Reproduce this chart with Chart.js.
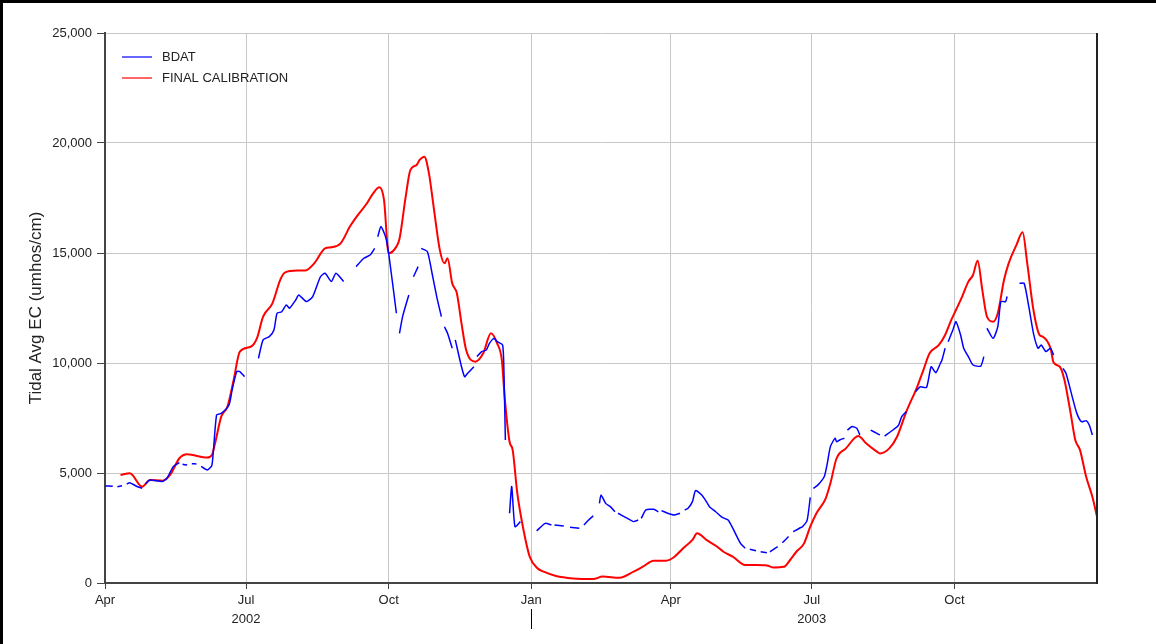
<!DOCTYPE html>
<html>
<head>
<meta charset="utf-8">
<script src="https://cdn.jsdelivr.net/npm/chart.js@4.4.1/dist/chart.umd.min.js"></script>
<style>
  html, body { margin: 0; padding: 0; background: #fff; }
  #wrap { width: 1156px; height: 644px; position: relative; }
</style>
</head>
<body>
<div id="wrap"><canvas id="myChart" width="1156" height="644"></canvas></div>
<script>
// x values are days counted from 1 Apr 2002
const tickDays = [0, 91, 183, 275, 365, 456, 548, 640]
const monthLabels = ['Apr', 'Jul', 'Oct', 'Jan', 'Apr', 'Jul', 'Oct', '']
const yearLabelDays = [91, 456]
const yearLabels = ['2002', '2003']
const yearBreakDays = [275]

const yTicks = [0, 5000, 10000, 15000, 20000, 25000]

// BDAT (null = missing data)
const bdatDays = [
  0, 5, 6, 8, 11, 12, 14, 16, 20, 24, 25, 26, 29, 37, 40, 44, 48, 49, 50, 53, 54, 56, 59, 60,
  62, 66, 69, 72, 75, 80, 82, 85, 87, 90, 95,
  99, 102, 106, 109, 111, 114, 117, 119, 123, 125, 130, 134, 139, 142, 146, 149, 154, 158,
  162, 167, 171, 174, 175, 176, 178, 181, 183, 188, 189,
  190, 192, 196, 197, 199, 202, 203, 204, 208, 211, 214, 217, 218,
  219, 221, 224, 225, 226, 230, 232, 234, 238, 239,
  240, 243, 246, 248, 251, 253, 256.5, 257.4, 258.3, 259.5,
  261, 262.4, 264.5, 268, 273,
  278.5, 284, 288, 289, 290, 296, 298, 300, 306, 307.5, 309, 312, 315, 317,
  319, 320, 323, 326, 329, 330, 331, 337, 341, 344, 345,
  346, 349, 354, 357, 358, 359, 363, 367, 371, 372.5,
  374, 376, 379, 381, 385, 388, 390, 394, 398, 402, 405, 410, 413, 414.5,
  416, 420, 421.5, 423, 427, 428, 429, 434, 435.5, 437, 441, 442.5,
  444, 448, 450, 453, 455, 456,
  457, 460, 464, 466, 468, 471, 472, 474, 477, 478,
  479, 482, 485, 487, 490, 494, 498, 500, 501.5,
  503, 509, 512, 514, 517, 520,
  523, 526, 530, 533, 536, 539, 540, 542, 543,
  544, 547, 549, 552, 554, 557, 560, 565, 567, 568,
  569, 573, 576, 578, 581, 582, 586,
  590, 593, 596, 599, 602, 604, 607, 610, 612, 615,
  618, 620, 624, 627, 630, 633, 635, 637
]
const bdatValues = [
  4410, 4400, null, 4380, 4420, null, 4500, 4560, 4410, 4300, null, 4500, 4680, 4610, 4760, 5290, 5470, null, 5400, 5360, null, 5420, 5410, null,
  5300, 5140, 5360, 7640, 7710, 8090, 8770, 9610, 9610, 9380, null,
  10210, 11050, 11200, 11500, 12260, 12330, 12640, 12490, 12860, 13090, 12790, 13020, 13920, 14080, 13700, 14080, 13700, null,
  14380, 14760, 14910, 15210, null, 15740, 16200, 15740, 14990, 12260, null,
  11350, 12110, 13090, null, 13920, 14380, null, 15210, 15060, 14080, 13020, 12110, null,
  11650, 11350, 10670, null, 11050, 9830, 9380, 9530, 9830, null,
  10290, 10520, 10590, 10890, 11120, 10970, 10820, 9530, 6500, null,
  3170, 4380, 2560, 2790, null,
  2370, 2710, 2640, null, 2640, 2590, null, 2530, 2490, null, 2640, 2860, 3050, null,
  3620, 4000, 3620, 3470, 3240, null, 3170, 2940, 2790, 2860, null,
  2940, 3320, 3350, 3240, null, 3290, 3170, 3090, 3170, null,
  3320, 3390, 3700, 4200, 4000, 3700, 3470, 3240, 2990, 2860, 2490, 1800, 1580, null,
  1530, 1470, null, 1420, 1380, null, 1420, 1650, null, 1830, 2110, null,
  2330, 2490, 2560, 2860, 3890, null,
  4300, 4460, 4830, 5440, 6200, 6580, 6420, 6500, 6580, null,
  6950, 7110, 7030, 6730, null, 6950, 6800, 6730, null,
  6680, 6990, 7180, 7560, 7790, null,
  8700, 8920, 8890, 9830, 9560, 9990, 10140, 10670, null,
  10970, 11500, 11880, 11270, 10670, 10290, 9910, 9860, 10290, null,
  11580, 11120, 11650, 12790, 12790, 13020, null,
  13620, 13620, 12560, 11350, 10670, 10820, 10520, 10670, 10360, null,
  9760, 9530, 8470, 7710, 7330, 7380, 7180, 6730
]

// FINAL CALIBRATION
const calibDays = [
  10, 16, 24, 29, 37, 42, 48, 53, 66, 69, 71, 75, 79, 83, 87, 94, 98, 102, 108, 113, 116, 124, 129,
  135, 142, 146, 152, 158, 162, 169, 173, 177, 180, 183, 188, 190, 194, 197, 201, 203, 206, 209,
  212, 216, 219, 221, 224, 227, 230, 233, 239, 244, 249, 253, 256, 258, 261, 263, 266, 270, 274,
  279, 283, 291, 302, 315, 321, 332, 341, 347, 354, 362, 367, 373, 379, 382, 388, 395, 399, 405,
  413, 420, 427, 431, 438, 442, 446, 451, 455, 459, 465, 468, 472, 478, 486, 491, 498, 500, 506,
  511, 517, 524, 528, 532, 538, 542, 546, 549, 553, 557, 560, 563, 566, 569, 573, 576, 580, 583,
  588, 592, 595, 599, 603, 605, 610, 612, 616, 619, 623, 626, 629, 633, 637, 640
]
const calibValues = [
  4910, 4990, 4380, 4680, 4650, 4910, 5670, 5850, 5700, 5820, 6350, 7560, 8020, 9230, 10520, 10740, 11120, 12110, 12710, 13770, 14110, 14200, 14200,
  14530, 15210, 15260, 15440, 16200, 16620, 17260, 17710, 17990, 17410, 14990, 15290, 15650, 17560, 18770, 19000, 19230, 19380, 18620,
  17110, 15140, 14530, 14760, 13620, 13170, 11800, 10590, 10060, 10440, 11350, 10890, 10140, 8320, 6420, 6050, 4080, 2410, 1200,
  670, 515, 320, 210, 180, 290, 240, 515, 740, 1015, 1015, 1170, 1580, 1960, 2260, 1960, 1650, 1420, 1200,
  820, 820, 800, 710, 740, 1045, 1420, 1800, 2560, 3170, 3850, 4530, 5670, 6120, 6680, 6350, 5970, 5890, 6120,
  6650, 7790, 8920, 9680, 10440, 10820, 11270, 11960, 12410, 13020, 13700, 14000, 14650, 13320, 12110, 11880, 12260, 13770, 14530,
  15360, 15940, 14530, 12410, 11270, 11200, 10670, 10020, 9830, 9230, 7710, 6500, 6050, 4830, 3920, 3020
]

const toPoints = (days, values) => days.map((d, i) => ({ x: d, y: values[i] }))

const axisColor = '#444'
const gridColor = '#c8c8c8'
const fontFamily = '"Liberation Sans", Arial, sans-serif'

const extras = {
  id: 'extras',
  afterDraw(chart) {
    const ctx = chart.ctx
    const area = chart.chartArea
    const xScale = chart.scales.x
    ctx.save()

    // right edge of the plot
    ctx.strokeStyle = '#222'
    ctx.lineWidth = 2
    ctx.beginPath()
    ctx.moveTo(area.right, area.top)
    ctx.lineTo(area.right, area.bottom + 1)
    ctx.stroke()

    // year break mark under Jan
    ctx.strokeStyle = '#000'
    ctx.lineWidth = 1
    yearBreakDays.forEach(d => {
      const px = Math.round(xScale.getPixelForValue(d)) + 0.5
      ctx.beginPath()
      ctx.moveTo(px, area.bottom + 26)
      ctx.lineTo(px, area.bottom + 46)
      ctx.stroke()
    })

    // legend in the top left corner of the plot
    ctx.font = '13px ' + fontFamily
    ctx.textBaseline = 'middle'
    chart.data.datasets.forEach((ds, i) => {
      const y = area.top + 24 + i * 21
      ctx.strokeStyle = ds.borderColor
      ctx.lineWidth = 1.2
      ctx.beginPath()
      ctx.moveTo(area.left + 17, y)
      ctx.lineTo(area.left + 47, y)
      ctx.stroke()
      ctx.fillStyle = '#222'
      ctx.fillText(ds.label, area.left + 57, y)
    })

    // outer frame (top and left only)
    ctx.strokeStyle = '#000'
    ctx.lineWidth = 3
    ctx.beginPath()
    ctx.moveTo(1.5, chart.height)
    ctx.lineTo(1.5, 1.5)
    ctx.lineTo(chart.width, 1.5)
    ctx.stroke()

    ctx.restore()
  }
}

const ctx = document.getElementById('myChart')

new Chart(ctx, {
  type: 'line',
  data: {
    datasets: [
      {
        label: 'BDAT',
        data: toPoints(bdatDays, bdatValues),
        borderColor: '#0000ff',
        borderWidth: 1.5,
        pointRadius: 0,
        tension: 0.2,
        spanGaps: false
      },
      {
        label: 'FINAL CALIBRATION',
        data: toPoints(calibDays, calibValues),
        borderColor: '#ff0000',
        borderWidth: 2,
        pointRadius: 0,
        cubicInterpolationMode: 'monotone'
      }
    ]
  },
  options: {
    responsive: false,
    animation: false,
    devicePixelRatio: 1,
    layout: { padding: { top: 33, right: 59, bottom: 0, left: 0 } },
    plugins: {
      legend: { display: false },
      tooltip: { enabled: false }
    },
    scales: {
      x: {
        type: 'linear',
        min: 0,
        max: 640,
        afterBuildTicks: scale => { scale.ticks = tickDays.map(v => ({ value: v })) },
        afterFit: scale => { scale.height = 61 },
        ticks: {
          autoSkip: false,
          maxRotation: 0,
          padding: 2,
          color: '#222',
          font: { family: fontFamily, size: 13, lineHeight: 1.45 },
          callback: (value) => {
            const i = tickDays.indexOf(value)
            const label = monthLabels[i]
            const y = yearLabelDays.indexOf(value)
            return y >= 0 ? [label, yearLabels[y]] : label
          }
        },
        grid: {
          color: gridColor,
          lineWidth: 1,
          tickLength: 6,
          tickColor: c => (c.tick && monthLabels[tickDays.indexOf(c.tick.value)] === '' ? 'rgba(0,0,0,0)' : axisColor)
        },
        border: { color: axisColor, width: 2 }
      },
      y: {
        min: 0,
        max: 25000,
        afterBuildTicks: scale => { scale.ticks = yTicks.map(v => ({ value: v })) },
        afterFit: scale => { scale.width = 105 },
        ticks: {
          padding: 5,
          color: '#222',
          font: { family: fontFamily, size: 13 },
          callback: value => value.toLocaleString('en-US')
        },
        grid: {
          color: gridColor,
          lineWidth: 1,
          tickLength: 8,
          tickColor: axisColor
        },
        border: { color: axisColor, width: 2 },
        title: {
          display: true,
          text: 'Tidal Avg EC (umhos/cm)',
          color: '#222',
          font: { family: fontFamily, size: 17 },
          padding: { top: 26, bottom: 0 }
        }
      }
    }
  },
  plugins: [extras]
})
</script>
</body>
</html>
